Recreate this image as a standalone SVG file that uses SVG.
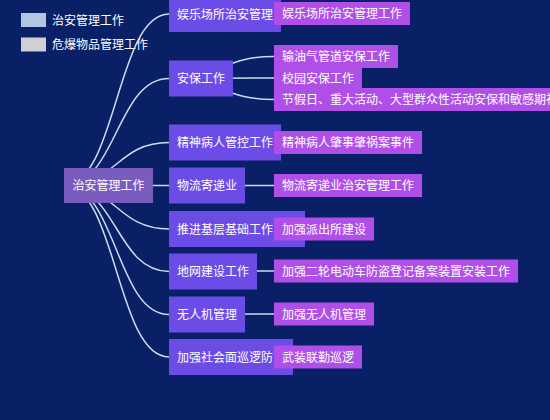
<svg xmlns="http://www.w3.org/2000/svg" width="550" height="420" viewBox="0 0 550 420">
<style>
  .bg { fill: #0a2066; }
  .link { fill: none; stroke: #c9dcef; stroke-width: 1.5; }
  .root rect { fill: #7a5cbf; }
  .l1 rect { fill: #6c4ce6; }
  .l2 rect { fill: #b04fe8; }
  text { font-family: "Noto Sans CJK SC", "Noto Sans", sans-serif; font-size: 12px; fill: #ffffff; }
  .legend text { fill: #ffffff; }
</style>
<rect class="bg" x="0" y="0" width="550" height="420"/>

<g id="legend" class="legend">
  <rect x="21" y="13" width="25" height="14" fill="#b3c6e0"/>
  <text x="52" y="24.5">治安管理工作</text>
  <rect x="21" y="37.5" width="25" height="14" fill="#d0d0d4"/>
  <text x="52" y="49">危爆物品管理工作</text>
</g>

<g id="connectors">
  <path class="link" d="M64 185.5 C116.5 185.5 116.5 14 169 14"/>
  <path class="link" d="M64 185.5 C116.5 185.5 116.5 78.5 169 78.5"/>
  <path class="link" d="M64 185.5 C116.5 185.5 116.5 142.5 169 142.5"/>
  <path class="link" d="M64 185.5 L169 185.5"/>
  <path class="link" d="M64 185.5 C116.5 185.5 116.5 229 169 229"/>
  <path class="link" d="M64 185.5 C116.5 185.5 116.5 271.5 169 271.5"/>
  <path class="link" d="M64 185.5 C116.5 185.5 116.5 314.5 169 314.5"/>
  <path class="link" d="M64 185.5 C116.5 185.5 116.5 357 169 357"/>

  <path class="link" d="M169 14 C221.5 14 221.5 13.5 274 13.5"/>
  <path class="link" d="M169 78.5 C221.5 78.5 221.5 56.5 274 56.5"/>
  <path class="link" d="M169 78.5 L274 78"/>
  <path class="link" d="M169 78.5 C221.5 78.5 221.5 99.5 274 99.5"/>
  <path class="link" d="M169 142.5 C221.5 142.5 221.5 142.5 274 142.5"/>
  <path class="link" d="M169 185.5 L274 185.5"/>
  <path class="link" d="M169 229 L274 229"/>
  <path class="link" d="M169 271.5 L274 271"/>
  <path class="link" d="M169 314.5 L274 314"/>
  <path class="link" d="M169 357 L274 357"/>
</g>

<g id="root" class="root">
  <rect x="64" y="168" width="89" height="35"/>
  <text x="108.5" y="190" text-anchor="middle">治安管理工作</text>
</g>

<g id="n-yule" class="l1"><rect x="169" y="-4" width="112" height="36"/><text x="177" y="18.5">娱乐场所治安管理</text></g>
<g id="n-anbao" class="l1"><rect x="169" y="60.5" width="64" height="36"/><text x="177" y="83">安保工作</text></g>
<g id="n-jingshen" class="l1"><rect x="169" y="124.5" width="112" height="36"/><text x="177" y="147">精神病人管控工作</text></g>
<g id="n-wuliu" class="l1"><rect x="169" y="167.5" width="76" height="36"/><text x="177" y="190">物流寄递业</text></g>
<g id="n-jiceng" class="l1"><rect x="169" y="211" width="136" height="36"/><text x="177" y="233.5">推进基层基础工作</text></g>
<g id="n-diwang" class="l1"><rect x="169" y="253.5" width="88" height="36"/><text x="177" y="276">地网建设工作</text></g>
<g id="n-wurenji" class="l1"><rect x="169" y="296.5" width="76" height="36"/><text x="177" y="319">无人机管理</text></g>
<g id="n-xunluo" class="l1"><rect x="169" y="339" width="124" height="36"/><text x="177" y="361.5">加强社会面巡逻防</text></g>

<g id="c-yule" class="l2"><rect x="274" y="2" width="136" height="23"/><text x="282" y="18">娱乐场所治安管理工作</text></g>
<g id="c-shuyou" class="l2"><rect x="274" y="45" width="124" height="23"/><text x="282" y="61">输油气管道安保工作</text></g>
<g id="c-xiaoyuan" class="l2"><rect x="274" y="66.5" width="88" height="23"/><text x="282" y="82.5">校园安保工作</text></g>
<g id="c-jiejiari" class="l2"><rect x="274" y="88" width="300" height="23"/><text x="282" y="104">节假日、重大活动、大型群众性活动安保和敏感期社</text></g>
<g id="c-jingshen" class="l2"><rect x="274" y="131" width="148" height="23"/><text x="282" y="147">精神病人肇事肇祸案事件</text></g>
<g id="c-wuliu" class="l2"><rect x="274" y="174" width="148" height="23"/><text x="282" y="190">物流寄递业治安管理工作</text></g>
<g id="c-paichusuo" class="l2"><rect x="274" y="217.5" width="100" height="23"/><text x="282" y="233.5">加强派出所建设</text></g>
<g id="c-erlun" class="l2"><rect x="274" y="259.5" width="244" height="23"/><text x="282" y="275.5">加强二轮电动车防盗登记备案装置安装工作</text></g>
<g id="c-wurenji" class="l2"><rect x="274" y="302.5" width="100" height="23"/><text x="282" y="318.5">加强无人机管理</text></g>
<g id="c-wuzhuang" class="l2"><rect x="274" y="345.5" width="88" height="23"/><text x="282" y="361.5">武装联勤巡逻</text></g>
</svg>
